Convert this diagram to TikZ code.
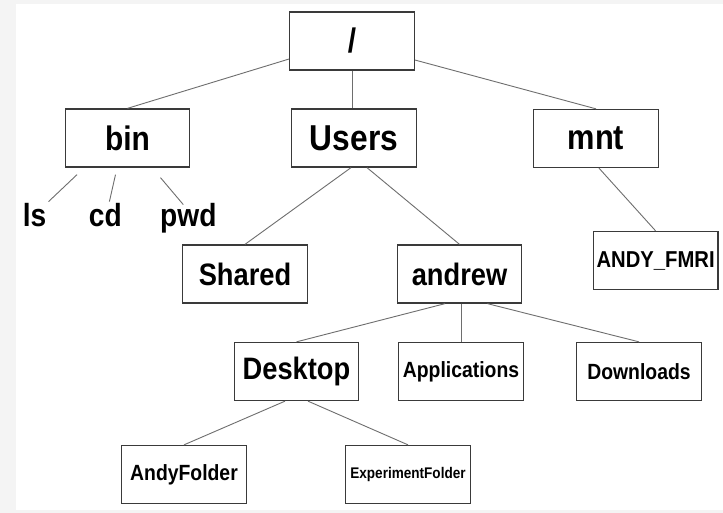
\documentclass[tikz,border=0pt]{standalone}
\usepackage{fontspec}
\setmainfont[FakeStretch=0.88]{Liberation Sans}
\usepackage{tikz}
\usetikzlibrary{positioning}
\definecolor{boxgray}{HTML}{3A3A3A}
\definecolor{linegray}{HTML}{6E6E6E}
\definecolor{bggray}{HTML}{F4F4F4}
\newcommand{\dirsize}[1]{\fontsize{#1pt}{#1pt}\selectfont\bfseries}
\tikzset{dir/.style={draw=boxgray,line width=1.3pt,fill=white,minimum width=124.5pt,minimum height=58pt,inner sep=0pt},
         link/.style={draw=linegray,line width=0.9pt},
         cmd/.style={inner sep=2pt,anchor=base,font=\dirsize{32}}}

\begin{document}
\begin{tikzpicture}[x=1pt,y=-1pt]
    \fill[bggray] (0,0) rectangle (723,513);
    \fill[white] (16,4) rectangle (723,510);
    % top levels
    \node[dir,font=\dirsize{34}] (root) at (352,41) {/};
    \node[dir,font=\dirsize{34}] (bin) at (127.5,138) {bin};
    \node[dir,font=\dirsize{36}] (users) at (354,138) {Users};
    \node[dir,font=\dirsize{35}] (mnt) at (596,138.5) {mnt};
    \node[cmd] (ls) at (34.6,227) {ls};
    \node[cmd] (cd) at (105.4,227) {cd};
    \node[cmd] (pwd) at (188.3,227) {pwd};
    \node[dir,font=\dirsize{31}] (shared) at (245,274) {Shared};
    \node[dir,font=\dirsize{31}] (andrew) at (459.5,274) {andrew};
    \node[dir,font=\dirsize{23}] (fmri) at (655.6,260.5) {ANDY\_FMRI};
    \node[dir,font=\dirsize{31}] (desktop) at (296.5,371.5) {Desktop};
    \node[dir,font=\dirsize{22}] (apps) at (461,371.5) {Applications};
    \node[dir,font=\dirsize{22}] (downloads) at (639,371.5) {Downloads};
    \node[dir,font=\dirsize{22}] (andyfolder) at (184,474.5) {AndyFolder};
    \node[dir,font=\dirsize{15.4}] (expfolder) at (408,474.5) {ExperimentFolder};
    % links
    \draw[link] ([yshift=-18pt]root.west) -- (bin.north);
    \draw[link] (root.south) -- (root.south |- users.north);
    \draw[link] ([yshift=-19pt]root.east) -- (mnt.north);
    \draw[link] ([xshift=-50.5pt,yshift=-7pt]bin.south) -- (ls.north east);
    \draw[link] ([xshift=-12pt,yshift=-7pt]bin.south) -- ([xshift=4pt]cd.north);
    \draw[link] ([xshift=33pt,yshift=-10pt]bin.south) -- ([xshift=-5pt,yshift=-3pt]pwd.north);
    \draw[link] ([xshift=-3pt]users.south) -- (shared.north);
    \draw[link] ([xshift=13pt]users.south) -- (andrew.north);
    \draw[link] ([xshift=3pt]mnt.south) -- (fmri.north);
    \draw[link] ([xshift=-14.5pt]andrew.south) -- (desktop.north);
    \draw[link] ([xshift=1.5pt]andrew.south) -- (apps.north);
    \draw[link] ([xshift=28pt]andrew.south) -- (downloads.north);
    \draw[link] ([xshift=-11.5pt]desktop.south) -- (andyfolder.north);
    \draw[link] ([xshift=11.5pt]desktop.south) -- (expfolder.north);
\end{tikzpicture}
\end{document}
